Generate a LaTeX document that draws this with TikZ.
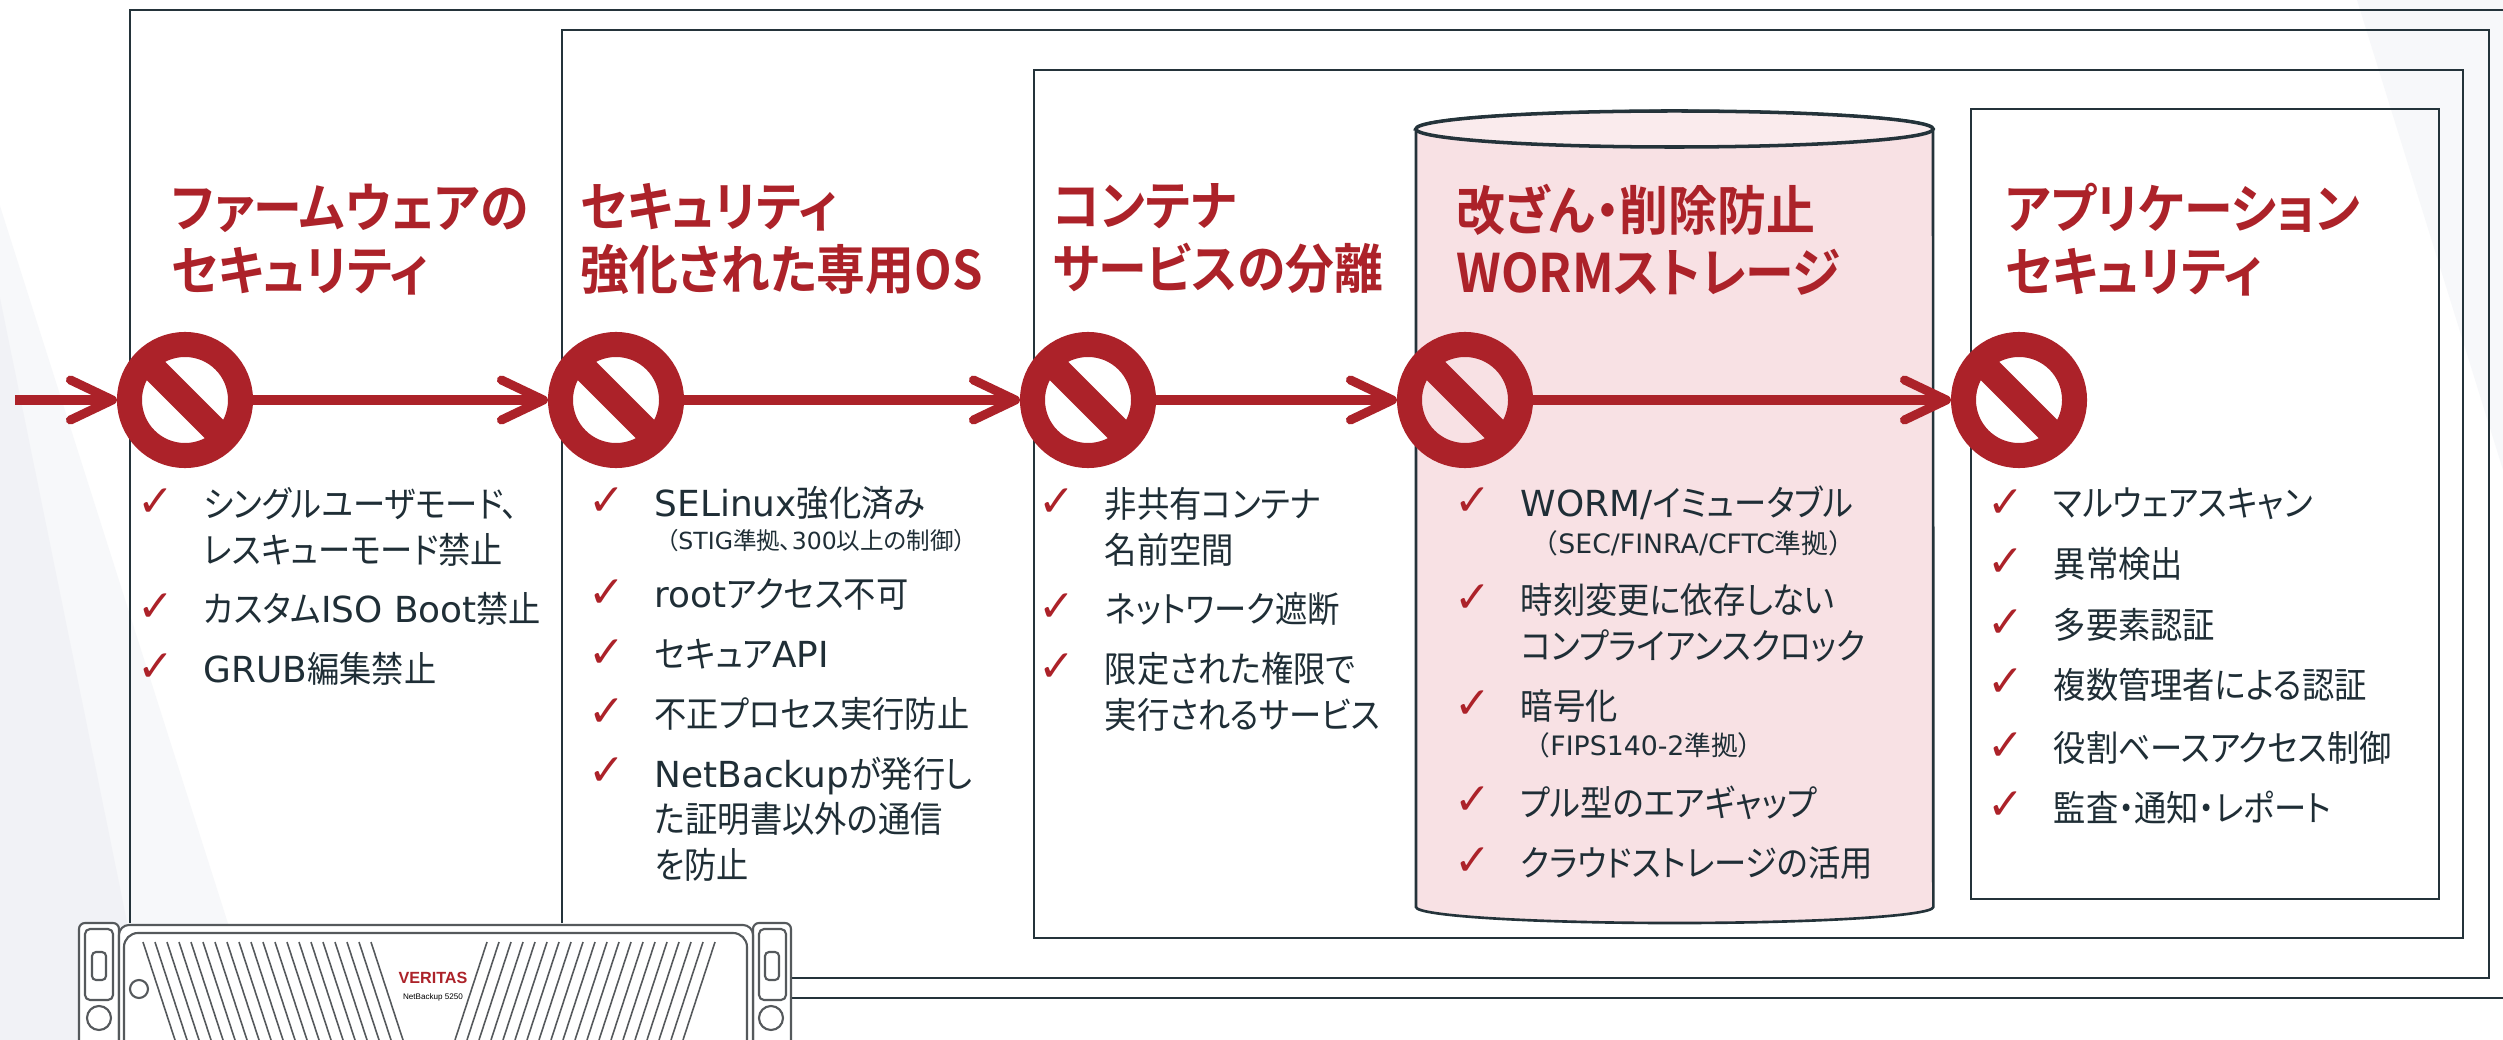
\documentclass[tikz,border=0pt]{standalone}
\usepackage{fontspec}
\usepackage{xcolor}
\usetikzlibrary{arrows.meta,positioning,calc}
\setmainfont{Noto Sans CJK JP}[RawFeature={+palt}, FakeStretch=0.9]
\newfontfamily\notefont{Noto Sans CJK JP}[RawFeature={+palt}]
\newfontfamily\widenotefont{Noto Sans CJK JP}
\newfontfamily\headfont{Noto Sans CJK JP Bold}[RawFeature={+palt}, FakeStretch=0.92]
\newfontfamily\latinfont{DejaVu Sans}
\newfontfamily\tickfont{DejaVu Sans}
\newfontfamily\brandfont{Liberation Sans}
\newcommand{\lat}[1]{{\latinfont #1}}
\definecolor{StopRed}{HTML}{AC2229}
\definecolor{InkDark}{HTML}{1F2E36}
\definecolor{FrameDark}{HTML}{24333A}
\definecolor{WormPink}{HTML}{F8E1E4}
\definecolor{WormTop}{HTML}{FAEBED}
\definecolor{ShadeGrey}{HTML}{F1F2F6}
\definecolor{ShadeLight}{HTML}{F7F8FA}
\definecolor{RackGrey}{HTML}{55595C}
\tikzset{
  frame/.style={draw=FrameDark, line width=0.75pt},
  stopsign/.style={circle, draw=StopRed, line width=0.25cm, minimum size=1.11cm, inner sep=0pt},
  slash/.style={draw=StopRed, line width=0.26cm},
  flow/.style={-{Straight Barb[length=0.42cm, width=0.40cm, round]}, draw=StopRed, line width=0.09cm},
  headline/.style={anchor=north west, inner sep=0pt, align=left, text=StopRed, font=\headfont\fontsize{15.1pt}{17.9pt}\selectfont},
  point/.style={anchor=base west, inner sep=0pt, align=left, text=InkDark, font=\fontsize{10.2pt}{12.95pt}\selectfont},
  note/.style={anchor=base west, inner sep=0pt, text=InkDark, font=\notefont\fontsize{6.7pt}{8pt}\selectfont},
  widenote/.style={note, font=\widenotefont\fontsize{7.6pt}{9pt}\selectfont},
  tick/.style={anchor=center, inner sep=0pt, text=StopRed, font=\tickfont\fontsize{12.5pt}{12.5pt}\selectfont},
  rack/.style={draw=RackGrey, line width=0.6pt, fill=white},
  grille/.style={draw=RackGrey, line width=0.45pt}
}

\begin{document}
\begin{tikzpicture}[x=0.01cm, y=-0.01cm]
  \useasboundingbox (0,0) rectangle (2503,1040);
  \fill[white] (0,0) rectangle (2503,1040);
  % soft background wedges
  \fill[ShadeLight] (0,206) -- (265,1040) -- (0,1040) -- cycle;
  \fill[ShadeGrey] (0,298) -- (151,1040) -- (0,1040) -- cycle;
  \fill[ShadeLight] (2357,0) -- (2503,0) -- (2503,470) -- cycle;

  % nested protection layers
  \draw[frame] (2520,10) -- (130,10) -- (130,923);
  \draw[frame] (791,998) -- (2520,998);
  \draw[frame] (562,923) -- (562,30) -- (2489,30) -- (2489,978) -- (791,978);
  \draw[frame] (1034,70) rectangle (2463,938);
  \draw[frame] (1971,109) rectangle (2439,899);

  % WORM storage cylinder
  \filldraw[fill=WormPink, draw=FrameDark, line width=0.75pt]
    (1416,129) -- (1416,907) arc[start angle=180, end angle=360, x radius=2.585cm, y radius=0.16cm]
    -- (1933,129) arc[start angle=0, end angle=180, x radius=2.585cm, y radius=0.18cm] -- cycle;
  \filldraw[fill=WormTop, draw=FrameDark, line width=1pt] (1674.5,129) ellipse [x radius=2.585cm, y radius=0.18cm];

  % appliance front panel
  \draw[rack, rounded corners=0.06cm] (79,923) rectangle (119,1060);
  \draw[rack, rounded corners=0.05cm] (85,929) rectangle (113,1000);
  \draw[rack, rounded corners=0.04cm] (92,952) rectangle (106,980);
  \draw[rack] (99,1018) circle (0.12cm);
  \draw[rack, rounded corners=0.06cm] (753,923) rectangle (791,1060);
  \draw[rack, rounded corners=0.05cm] (759,929) rectangle (786,1000);
  \draw[rack, rounded corners=0.04cm] (765,952) rectangle (779,980);
  \draw[rack] (771,1018) circle (0.12cm);
  \draw[rack, rounded corners=0.1cm] (119,925) rectangle (753,1060);
  \draw[rack, rounded corners=0.14cm] (124,933) rectangle (747,1060);
  \draw[rack] (139,989) circle (0.09cm);
  \foreach \i in {0,...,19} {
    \draw[grille] (143+12*\i,942) -- (175+12*\i,1040);
    \draw[grille] (487+12*\i,942) -- (455+12*\i,1040);
  }
  \node[inner sep=0pt, text=StopRed, font=\brandfont\bfseries\fontsize{4.6pt}{5pt}\selectfont] (brand) at (433,978) {VERITAS};
  \node[inner sep=0pt, below=0.08cm of brand, font=\brandfont\fontsize{2.3pt}{3pt}\selectfont] (model) {NetBackup 5250};

  % blocked entry points
  \foreach \n/\x in {s1/185, s2/616, s3/1088, s4/1465, s5/2019} {
    \node[stopsign] (\n) at (\x,400) {};
    \begin{scope}
      \clip (\n.center) circle (0.44cm);
      \draw[slash] ($(\n.center)+(-50,-50)$) -- ($(\n.center)+(50,50)$);
    \end{scope}
  }
  \coordinate (entry) at (15,400);
  \draw[flow] (entry) -- (s1);
  \draw[flow] (s1) -- (s2);
  \draw[flow] (s2) -- (s3);
  \draw[flow] (s3) -- (s4);
  \draw[flow] (s4) -- (s5);

  % layer headings
  \node[headline] (t1) at (171,183) {ファームウェアの\\セキュリティ};
  \node[headline] (t2) at (580,183) {セキュリティ\\強化された専用OS};
  \node[headline] (t3) at (1052,183) {コンテナ\\サービスの分離};
  \node[headline] (t4) at (1456,183) {改ざん・削除防止\\WORMストレージ};
  \node[headline] (t5) at (2005,183) {アプリケーション\\セキュリティ};

  % firmware (base = last line of each item)
  \node[point] (c1a) at (203,563) {シングルユーザモード、\\レスキューモード禁止};
  \node[point, below=0.59cm of c1a.base west, anchor=base west] (c1b) {カスタム\lat{ISO Boot}禁止};
  \node[point, below=0.6cm of c1b.base west, anchor=base west] (c1c) {\lat{GRUB}編集禁止};

  % hardened OS
  \node[point] (c2a) at (654,517) {\lat{SELinux}強化済み};
  \node[note] (c2n) at (666,549) {（\lat{STIG}準拠、\lat{300}以上の制御）};
  \node[point, below=0.9cm of c2a.base west, anchor=base west] (c2b) {\lat{root}アクセス不可};
  \node[point, below=0.6cm of c2b.base west, anchor=base west] (c2c) {セキュア\lat{API}};
  \node[point, below=0.6cm of c2c.base west, anchor=base west] (c2d) {不正プロセス実行防止};
  \node[point, below=1.51cm of c2d.base west, anchor=base west] (c2e) {\lat{NetBackup}が発行し\\た証明書以外の通信\\を防止};

  % containers
  \node[point] (c3a) at (1104,563) {非共有コンテナ\\名前空間};
  \node[point, below=0.59cm of c3a.base west, anchor=base west] (c3b) {ネットワーク遮断};
  \node[point, below=1.06cm of c3b.base west, anchor=base west] (c3c) {限定された権限で\\実行されるサービス};

  % WORM storage
  \node[point] (c4a) at (1520,517) {\lat{WORM/}イミュータブル};
  \node[widenote] (c4n) at (1531,553) {（\lat{SEC/FINRA/CFTC}準拠）};
  \node[point, below=1.42cm of c4a.base west, anchor=base west] (c4b) {時刻変更に依存しない\\コンプライアンスクロック};
  \node[point, below=0.6cm of c4b.base west, anchor=base west] (c4c) {暗号化};
  \node[widenote] (c4m) at (1523,755) {（\lat{FIPS140-2}準拠）};
  \node[point, below=0.97cm of c4c.base west, anchor=base west] (c4d) {プル型のエアギャップ};
  \node[point, below=0.6cm of c4d.base west, anchor=base west] (c4e) {クラウドストレージの活用};

  % application
  \node[point] (c5a) at (2053,517) {マルウェアスキャン};
  \node[point, below=0.6cm of c5a.base west, anchor=base west] (c5b) {異常検出};
  \node[point, below=0.61cm of c5b.base west, anchor=base west] (c5c) {多要素認証};
  \node[point, below=0.6cm of c5c.base west, anchor=base west] (c5d) {複数管理者による認証};
  \node[point, below=0.63cm of c5d.base west, anchor=base west] (c5e) {役割ベースアクセス制御};
  \node[point, below=0.6cm of c5e.base west, anchor=base west] (c5f) {監査・通知・レポート};

  % red ticks beside the first line of every item
  \foreach \n in {c1a,c1b,c1c,c2a,c2b,c2c,c2d,c2e,c3a,c3b,c3c,c4a,c4b,c4c,c4d,c4e,c5a,c5b,c5c,c5d,c5e,c5f}
    \node[tick] (tick-\n) at ([shift={(-47,16)}]\n.north west) {✓};
\end{tikzpicture}
\end{document}
